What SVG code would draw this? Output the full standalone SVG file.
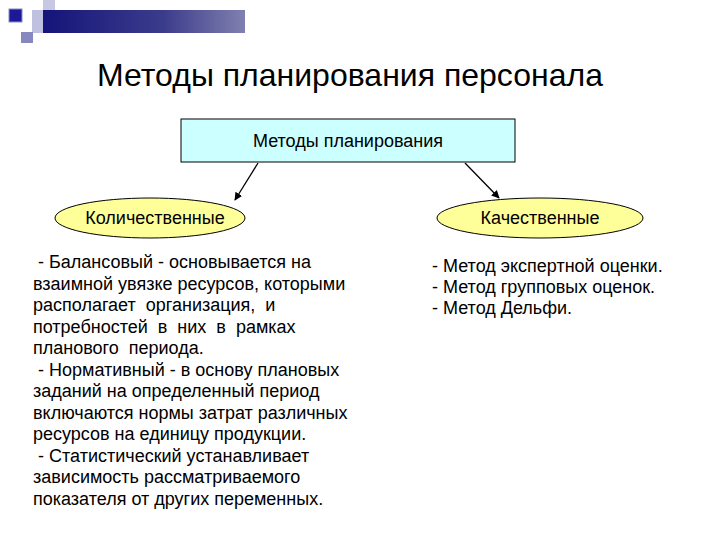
<svg xmlns="http://www.w3.org/2000/svg" width="720" height="540" viewBox="0 0 720 540">
<defs>
<linearGradient id="bar" x1="0" y1="0" x2="1" y2="0">
<stop offset="0" stop-color="#14147a"/>
<stop offset="0.6" stop-color="#3c3c8c"/>
<stop offset="1" stop-color="#8080b0"/>
</linearGradient>
<marker id="ah" viewBox="0 0 10 10" refX="9" refY="5" markerWidth="8" markerHeight="8" orient="auto" markerUnits="userSpaceOnUse">
<path d="M0,0 L10,5 L0,10 z" fill="#000"/>
</marker>
<style>
text{font-family:"Liberation Sans",Arial,sans-serif;fill:#000;white-space:pre}
.body{font-size:18px}
.lbl{font-size:18px;text-anchor:middle}
.ell{fill:#ffff99;stroke:#000;stroke-width:1}
.conn{stroke:#000;stroke-width:1.3;fill:none;marker-end:url(#ah)}
</style>
</defs>
<rect width="720" height="540" fill="#fff"/>
<g id="decor">
<rect x="43" y="0" width="12" height="10" fill="#c8c8e4"/>
<rect x="32" y="10" width="11" height="23" fill="#c0c0e0"/>
<rect x="43" y="10" width="202" height="23" fill="url(#bar)"/>
<rect x="9" y="9" width="13" height="13" fill="#1a1a96" stroke="#8a8ac8" stroke-width="1"/>
<rect x="21" y="32" width="12" height="11" fill="#8888c0"/>
</g>
<text x="350" y="86" style="font-size:32px;text-anchor:middle">Методы планирования персонала</text>
<g id="root">
<rect x="181" y="119" width="334" height="43" fill="#ccffff" stroke="#000" stroke-width="1"/>
<text class="lbl" x="348" y="147">Методы планирования</text>
</g>
<g id="connectors">
<line class="conn" x1="258" y1="163" x2="235" y2="200"/>
<line class="conn" x1="465" y1="163" x2="499" y2="198"/>
</g>
<g id="quant">
<ellipse class="ell" cx="150" cy="218" rx="95" ry="20"/>
<text class="lbl" x="155" y="224">Количественные</text>
</g>
<g id="qual">
<ellipse class="ell" cx="540" cy="218" rx="103" ry="20"/>
<text class="lbl" x="540" y="224">Качественные</text>
</g>
<g id="quant-text">
<text class="body" x="33" y="268"> - Балансовый - основывается на</text>
<text class="body" x="33" y="289.5">взаимной увязке ресурсов, которыми</text>
<text class="body" x="33" y="311">располагает  организация,  и</text>
<text class="body" x="33" y="332.5">потребностей  в  них  в  рамках</text>
<text class="body" x="33" y="354">планового  периода.</text>
<text class="body" x="33" y="375.5"> - Нормативный - в основу плановых</text>
<text class="body" x="33" y="397">заданий на определенный период</text>
<text class="body" x="33" y="418.5">включаются нормы затрат различных</text>
<text class="body" x="33" y="440">ресурсов на единицу продукции.</text>
<text class="body" x="33" y="461.5"> - Статистический устанавливает</text>
<text class="body" x="33" y="483">зависимость рассматриваемого</text>
<text class="body" x="33" y="504.5">показателя от других переменных.</text>
</g>
<g id="qual-text">
<text class="body" x="432" y="272">- Метод экспертной оценки.</text>
<text class="body" x="432" y="293">- Метод групповых оценок.</text>
<text class="body" x="432" y="314">- Метод Дельфи.</text>
</g>
</svg>
